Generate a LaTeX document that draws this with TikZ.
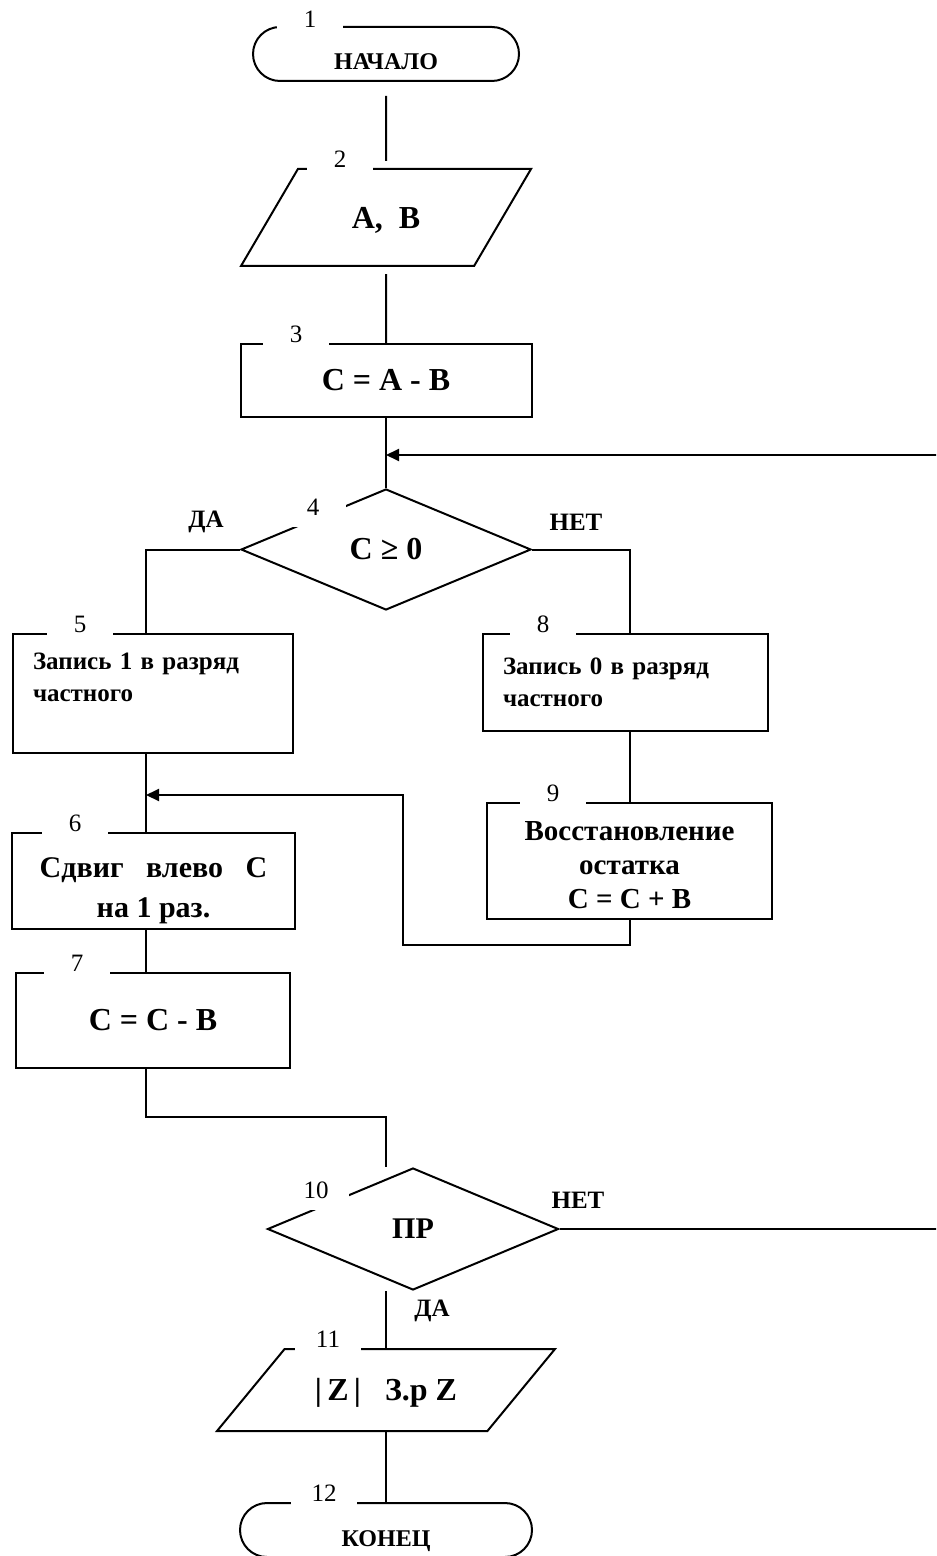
\documentclass[tikz,border=0pt]{standalone}
\usepackage{fontspec}
\setmainfont{Liberation Serif}
\usetikzlibrary{shapes.geometric,shapes.misc,arrows.meta}

\tikzset{
  blok/.style={draw, rectangle, inner sep=0pt, align=center, font=\bfseries\fontsize{16}{19}\selectfont},
  term/.style={draw, rounded rectangle, minimum width=133pt, minimum height=27pt, inner sep=0pt, text height=16pt, text depth=0pt, font=\bfseries\fontsize{12}{14}\selectfont},
  vvod/.style={draw, trapezium, trapezium stretches body, inner xsep=0pt, text height=10.6pt, text depth=0pt, font=\bfseries\fontsize{16}{19}\selectfont},
  uslovie/.style={draw, diamond, inner sep=0pt, font=\bfseries\fontsize{16}{19}\selectfont},
  num/.style={fill=white, inner sep=0pt, minimum width=33pt, text height=10pt, text depth=6pt, anchor=base, font=\fontsize{12.5}{15}\selectfont},
  otvet/.style={font=\bfseries\fontsize{12.5}{15}\selectfont},
  arr/.style={-{Triangle[length=6.5pt,width=6pt]}}
}

\begin{document}
\begin{tikzpicture}[x=0.5pt, y=-0.5pt, line width=1pt]
\useasboundingbox (0,0) rectangle (936,1556);
\clip (0,0) rectangle (936,1556);

% Блоки
\node[term] (start) at (386,54) {НАЧАЛО};
\node[vvod, trapezium left angle=59.6, trapezium right angle=120.4, minimum width=145pt, inner ysep=18.95pt] (io2) at (386,217.5) {A,~~B};
\node[blok, minimum width=145.5pt, minimum height=36.5pt] (p3) at (386,380.5) {C = A - B};
\node[uslovie, minimum width=145pt, minimum height=60.5pt] (d4) at (386,549.5) {C ≥ 0};

\node[blok, minimum width=140pt, minimum height=59.5pt, text width=120pt, align=left, font=\bfseries\fontsize{12.5}{16}\selectfont] (p5) at (153,693.5) {Запись 1 в разряд\\ частного\\ \mbox{}};
\node[blok, minimum width=141.5pt, minimum height=48pt, text depth=0pt, font=\bfseries\fontsize{15}{20}\selectfont] (p6) at (153.5,881) {\rule{0pt}{16pt}Сдвиг~~~влево~~~C\\ на 1 раз.};
\node[blok, minimum width=137pt, minimum height=47.5pt] (p7) at (153,1020.5) {C = C - B};

\node[blok, minimum width=142.5pt, minimum height=48.5pt, text width=122.5pt, align=left, font=\bfseries\fontsize{12.5}{16}\selectfont] (p8) at (625.5,682.5) {Запись 0 в разряд\\ частного};
\node[blok, minimum width=142.5pt, minimum height=58pt, font=\bfseries\fontsize{14.5}{17}\selectfont] (p9) at (629.5,861) {\rule{0pt}{14pt}Восстановление\\ остатка\\ C = C + B};

\node[uslovie, minimum width=145.5pt, minimum height=61pt, font=\bfseries\fontsize{15}{18}\selectfont] (d10) at (413,1229) {ПР};
\node[vvod, trapezium left angle=50.5, trapezium right angle=129.5, minimum width=169pt, inner ysep=15.2pt] (io11) at (386,1390) {\textbar\,Z\,\textbar~~~З.р Z};
\node[term, minimum width=146pt] (stop) at (386,1530) {КОНЕЦ};

% Номера блоков
\node[num] (n1) at (310,28) {1};
\node[num] (n2) at (340,168) {2};
\node[num] (n3) at (296,343) {3};
\node[num] (n4) at (313,515) {4};
\node[num] (n5) at (80,632) {5};
\node[num] (n6) at (75,831) {6};
\node[num] (n7) at (77,971) {7};
\node[num] (n8) at (543,632) {8};
\node[num] (n9) at (553,801) {9};
\node[num] (n10) at (316,1198) {10};
\node[num] (n11) at (328,1347) {11};
\node[num] (n12) at (324,1501) {12};

% Ветви
\node[otvet] (da1) at (206,522) {ДА};
\node[otvet] (net1) at (576,522) {НЕТ};
\node[otvet] (net2) at (578,1200) {НЕТ};
\node[otvet] (da2) at (432,1311) {ДА};

\coordinate (lx) at (146,550);
\coordinate (rx) at (630,550);
\coordinate (vhod) at (146,795);
\coordinate (vozv) at (403,945);
\coordinate (obh) at (386,1117);
\coordinate (vhod2) at (386,455);
\coordinate (kray) at (950,455);

% Связи
\draw[shorten <=7pt, shorten >=3.5pt] (start) -- (io2);
\draw[shorten <=3.5pt] (io2) -- (p3);
\draw (p3) -- (d4);
\draw (d4.west) -| (p5.north -| lx);
\draw (d4.east) -| (p8.north -| rx);
\draw (p5.south -| lx) -- (p6.north -| lx);
\draw (p6.south -| lx) -- (p7.north -| lx);
\draw (p8.south -| rx) -- (p9.north -| rx);
\draw[arr] (p9.south -| rx) |- (vozv) |- (vhod);
\draw (p7.south -| lx) |- (obh) -- (d10.north -| obh);
\draw[arr] (d10.east) -| (kray) -- (vhod2);
\draw (io11.north |- d10.south) -- (io11.north);
\draw (io11) -- (stop);

\end{tikzpicture}
\end{document}
